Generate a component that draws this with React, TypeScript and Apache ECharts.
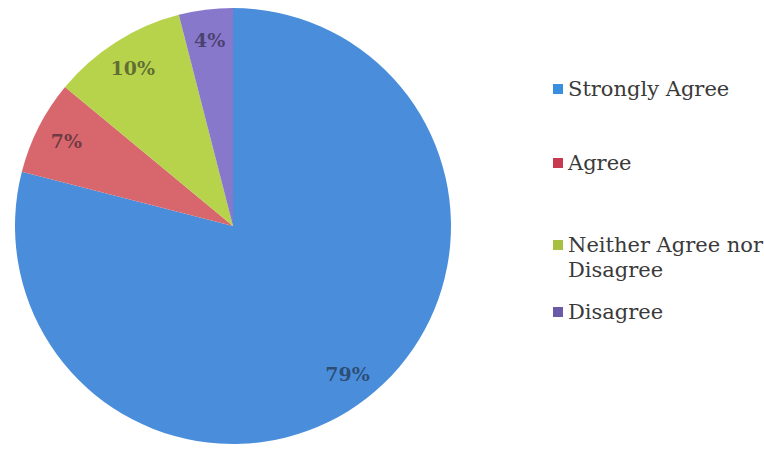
import React, { useEffect, useRef } from "react";
import * as echarts from "echarts";

const categories = ["Strongly Agree", "Agree", "Neither Agree nor Disagree", "Disagree"];
const values = [79, 7, 10, 4];
const sliceColors = ["#4a8edb", "#d8676d", "#b7d24b", "#8878cc"];
const iconColors = ["#3a8ee0", "#c83a50", "#a8c040", "#6a5aa8"];
const legendCenters = [89, 163, 245, 312];

export default function App() {
  const ref = useRef<HTMLDivElement>(null);
  useEffect(() => {
    if (!ref.current) return;
    const chart = echarts.init(ref.current, null, { renderer: "svg" });
    const data = categories.map((name, i) => ({
      name,
      value: values[i],
      itemStyle: { color: sliceColors[i] },
    }));
    const labelData = categories.map((name, i) => ({
      name,
      value: values[i],
      itemStyle: { color: "rgba(0,0,0,0)" },
    }));
    const legends = categories.map((name, i) => {
      const multi = name === "Neither Agree nor Disagree";
      return {
        orient: "vertical",
        left: 553,
        top: legendCenters[i] - (multi ? 37.5 : 12.5),
        padding: 0,
        itemWidth: 10,
        itemHeight: 10,
        icon: "rect",
        selectedMode: false,
        data: [{ name, itemStyle: { color: iconColors[i] } }],
        formatter: multi ? () => " \nNeither Agree nor\nDisagree" : undefined,
        textStyle: {
          fontFamily: "DejaVu Serif",
          fontSize: 21,
          lineHeight: 25,
          color: "#3a3a3a",
        },
      };
    });
    chart.setOption({
      animation: false,
      backgroundColor: "#ffffff",
      legend: legends,
      series: [
        {
          type: "pie",
          center: [233, 226],
          radius: [0, 218],
          startAngle: 90,
          clockwise: true,
          label: { show: false },
          labelLine: { show: false },
          emphasis: { disabled: true },
          data,
        },
        {
          type: "pie",
          center: [233, 226],
          radius: [150, 218],
          startAngle: 90,
          clockwise: true,
          silent: true,
          label: {
            show: true,
            position: "inside",
            formatter: "{c}%",
            fontFamily: "DejaVu Serif",
            fontWeight: "bold",
            fontSize: 19,
            color: "rgba(20,20,30,0.55)",
          },
          labelLine: { show: false },
          emphasis: { disabled: true },
          data: labelData,
        },
      ],
    });
    return () => chart.dispose();
  }, []);
  return (
    <div
      ref={ref}
      style={{ position: "fixed", left: 0, top: 0, width: 764, height: 450 }}
    />
  );
}
